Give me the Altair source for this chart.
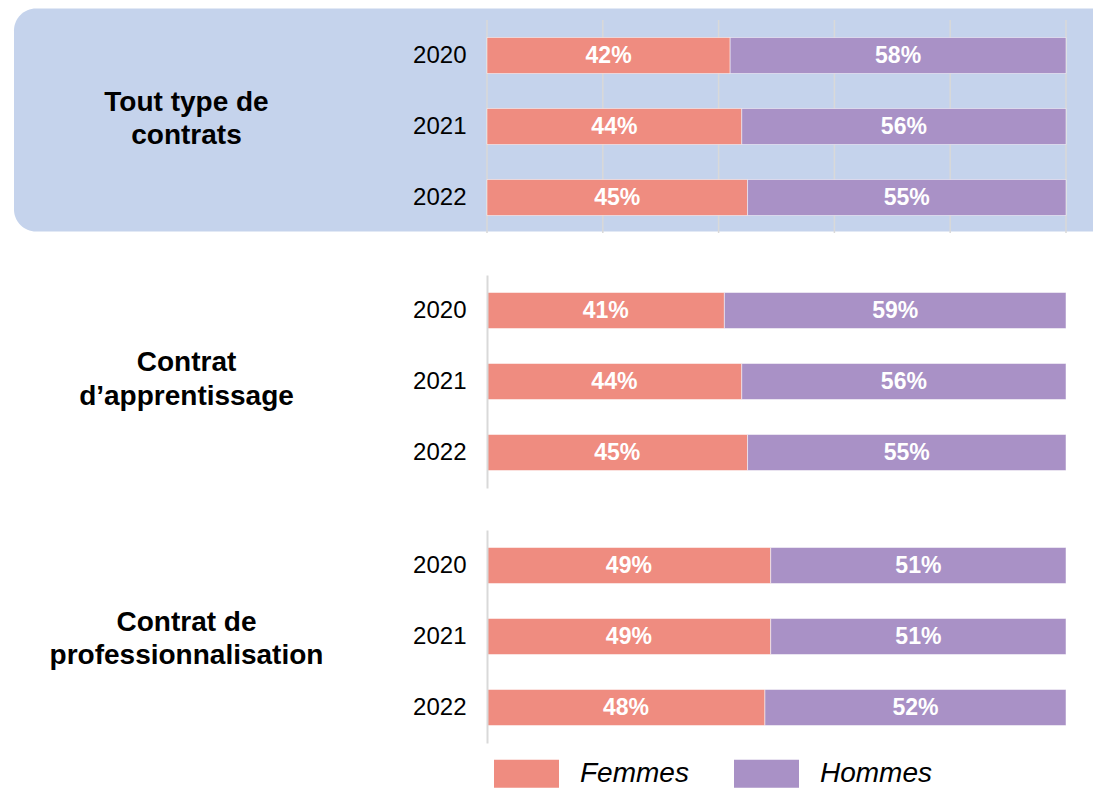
import altair as alt
import pandas as pd

# ---- data ----
groups = ["Tout type de contrats", "Contrat d'apprentissage", "Contrat de professionnalisation"]
group_lines = [["Tout type de", "contrats"], ["Contrat", "d’apprentissage"], ["Contrat de", "professionnalisation"]]
years = ["2020", "2021", "2022"]
femmes = [[42, 44, 45], [41, 44, 45], [49, 49, 48]]
hommes = [[58, 56, 55], [59, 56, 55], [51, 51, 52]]
sexes = ["Femmes", "Hommes"]
colors = ["#EF8C80", "#A991C6"]
grid_values = [0, 20, 40, 60, 80, 100]

rows = []
for gi, g in enumerate(groups):
    for yi, yr in enumerate(years):
        f = femmes[gi][yi]
        h = hommes[gi][yi]
        rows.append({"group": g, "year": yr, "sexe": "Femmes", "start": 0, "end": f, "label": f"{f}%"})
        rows.append({"group": g, "year": yr, "sexe": "Hommes", "start": f, "end": f + h, "label": f"{h}%"})
df = pd.DataFrame(rows)
df["mid"] = (df["start"] + df["end"]) / 2

FONT = "Liberation Sans"
PW, PH = 579, 213
title_y = [82, 87.5, 92]
xscale = alt.Scale(domain=[0, 100], nice=False)

color_enc = alt.Color(
    "sexe:N",
    scale=alt.Scale(domain=sexes, range=colors),
    legend=alt.Legend(
        title=None,
        orient="none",
        direction="horizontal",
        columns=2,
        legendX=7,
        legendY=721,
        symbolType="M-1,-0.43H1V0.43H-1Z",
        symbolSize=4225,
        symbolStrokeWidth=0,
        symbolOpacity=1,
        labelFont=FONT,
        labelFontSize=28,
        labelFontStyle="italic",
        labelColor="#000000",
        labelOffset=21,
        columnPadding=45,
        padding=0,
    ),
)


def panel(i):
    d = df[df["group"] == groups[i]]
    base = alt.Chart(d)
    y_enc = alt.Y(
        "year:N",
        sort=years,
        scale=alt.Scale(paddingInner=0.493, paddingOuter=0.2465),
        axis=alt.Axis(
            title=group_lines[i],
            titleAngle=0,
            titleAlign="center",
            titleBaseline="middle",
            titleX=-301,
            titleY=title_y[i],
            titleFont=FONT,
            titleFontSize=28,
            titleFontWeight="bold",
            titleLineHeight=33.5,
            titleColor="#000000",
            labelFont=FONT,
            labelFontSize=24,
            labelColor="#000000",
            labelPadding=21,
            ticks=False,
            domain=(i > 0),
            domainColor="#D9D9D9",
            domainWidth=2,
            zindex=1,
        ),
    )

    bars = base.mark_bar(stroke="#FFFFFF", strokeWidth=0.5).encode(
        x=alt.X("start:Q", axis=None, scale=xscale),
        x2="end:Q",
        y=y_enc,
        color=color_enc,
    )
    texts = base.mark_text(
        color="#FFFFFF", font=FONT, fontSize=23, fontWeight="bold", align="center", baseline="middle"
    ).encode(
        x=alt.X("mid:Q", axis=None, scale=xscale),
        y=y_enc,
        text="label:N",
    )
    layers = [bars, texts]
    if i == 0:
        bg = alt.Chart(pd.DataFrame({"k": [0]})).mark_rect(
            color="#C5D3EC",
            cornerRadiusTopLeft=22,
            cornerRadiusBottomLeft=22,
        ).encode(
            x=alt.value(-473),
            x2=alt.value(606),
            y=alt.value(-11.5),
            y2=alt.value(211.5),
        )
        grid = alt.Chart(pd.DataFrame({"v": grid_values})).mark_rule(
            color="#D9D9D9", strokeWidth=1.5
        ).encode(
            x=alt.X("v:Q", axis=None, scale=xscale),
            y=alt.value(0),
            y2=alt.value(PH),
        )
        layers = [bg, grid] + layers
    return alt.layer(*layers).properties(
        width=PW, height=PH, view=alt.ViewBackground(strokeOpacity=0, strokeWidth=0)
    )


chart = (
    alt.vconcat(panel(0), panel(1), panel(2), spacing=42, bounds="flush")
    .properties(padding={"left": 6, "top": 0, "right": 0, "bottom": 0})
    .configure_view(strokeOpacity=0, strokeWidth=0)
    .configure(font=FONT)
)

chart.save("out.html", embed_options={"renderer": "svg", "actions": False})
